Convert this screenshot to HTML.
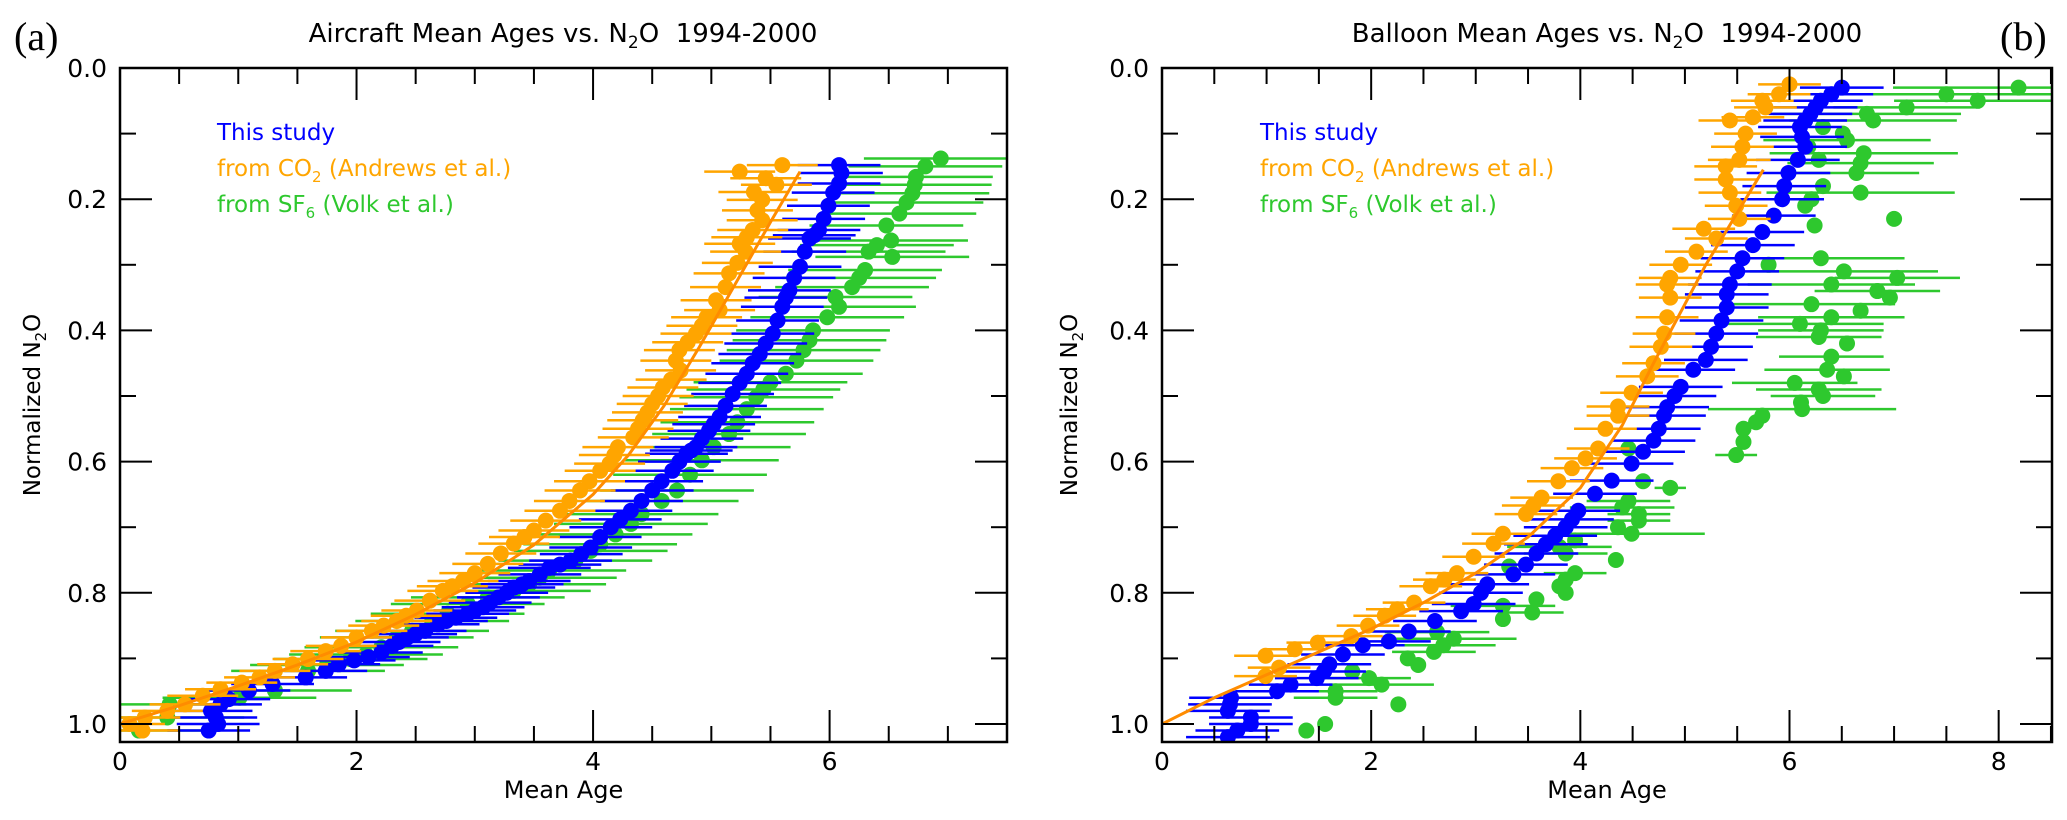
<!DOCTYPE html>
<html><head><meta charset="utf-8"><style>
html,body{margin:0;padding:0;background:#fff;}
svg{display:block;font-family:"DejaVu Sans","Liberation Sans",sans-serif;}
</style></head><body>
<svg id="fig" width="2067" height="820" viewBox="0 0 2067 820" xmlns="http://www.w3.org/2000/svg">
<text x="14" y="50" font-family="Liberation Serif, serif" font-size="40">(a)</text>
<text x="2000" y="50" font-family="Liberation Serif, serif" font-size="40">(b)</text>
<text x="563" y="42" font-size="26" text-anchor="middle">Aircraft Mean Ages vs. N<tspan font-size="17" dy="6">2</tspan><tspan dy="-6">O&#160;&#160;1994-2000</tspan></text>
<text x="1607" y="42" font-size="26" text-anchor="middle">Balloon Mean Ages vs. N<tspan font-size="17" dy="6">2</tspan><tspan dy="-6">O&#160;&#160;1994-2000</tspan></text>
<g id="pa"></g>
<g id="pb"></g>
</svg>
<script>
// ---- Panel (a) data: aircraft ----
const aBlueX=[6.08,6.1,6.08,6.03,5.99,5.95,5.91,5.87,5.83,5.79,5.75,5.7,5.66,5.63,5.6,5.56,5.52,5.46,5.41,5.35,5.3,5.24,5.18,5.12,5.07,5.02,4.98,4.92,4.87,4.83,4.79,4.73,4.67,4.58,4.5,4.41,4.32,4.23,4.15,4.06,3.98,3.9,3.81,3.72,3.63,3.55,3.46,3.4,3.33,3.27,3.2,3.13,3.07,3.0,2.94,2.84,2.76,2.69,2.58,2.5,2.43,2.36,2.3,2.21,2.1,1.98,1.85,1.74,1.57,1.29,1.09,0.92,0.85,0.77,0.81,0.83,0.75];
const aBlueY=[0.148,0.16,0.176,0.19,0.21,0.23,0.247,0.255,0.26,0.28,0.303,0.32,0.339,0.35,0.364,0.385,0.405,0.42,0.436,0.45,0.466,0.48,0.497,0.515,0.532,0.543,0.553,0.565,0.578,0.583,0.588,0.6,0.614,0.63,0.644,0.66,0.675,0.688,0.7,0.715,0.731,0.741,0.751,0.757,0.762,0.772,0.782,0.787,0.792,0.8,0.807,0.815,0.822,0.827,0.832,0.838,0.843,0.848,0.858,0.863,0.868,0.875,0.881,0.891,0.898,0.903,0.909,0.919,0.929,0.939,0.949,0.962,0.97,0.98,0.99,1.0,1.01];
const aOrangeX=[5.6,5.24,5.46,5.55,5.36,5.43,5.39,5.43,5.35,5.3,5.24,5.29,5.22,5.15,5.12,5.04,5.07,4.96,4.92,4.87,4.8,4.73,4.7,4.74,4.66,4.59,4.55,4.5,4.46,4.42,4.38,4.34,4.21,4.18,4.14,4.06,3.97,3.89,3.8,3.72,3.6,3.5,3.42,3.33,3.22,3.11,3.0,2.9,2.81,2.73,2.62,2.51,2.42,2.34,2.23,2.13,2.0,1.87,1.74,1.59,1.46,1.31,1.18,1.03,0.85,0.7,0.55,0.4,0.21,0.08,0.19];
const aOrangeY=[0.148,0.158,0.168,0.178,0.189,0.201,0.217,0.232,0.247,0.258,0.268,0.28,0.297,0.313,0.334,0.354,0.369,0.38,0.393,0.405,0.418,0.43,0.446,0.461,0.475,0.487,0.5,0.512,0.525,0.537,0.55,0.563,0.578,0.59,0.603,0.614,0.63,0.644,0.66,0.675,0.69,0.705,0.715,0.725,0.74,0.756,0.77,0.782,0.79,0.797,0.812,0.827,0.835,0.843,0.85,0.858,0.868,0.881,0.889,0.901,0.909,0.919,0.929,0.937,0.947,0.957,0.97,0.98,0.99,1.0,1.01];
const aGreenX=[6.94,6.81,6.73,6.72,6.7,6.65,6.59,6.48,6.52,6.53,6.4,6.33,6.3,6.25,6.19,6.05,6.08,5.98,5.86,5.83,5.78,5.72,5.63,5.5,5.44,5.38,5.3,5.22,5.15,5.02,4.92,4.82,4.71,4.58,4.41,4.32,4.19,4.06,3.98,3.85,3.63,3.55,3.46,3.33,3.11,2.94,2.77,2.64,2.47,2.34,2.21,2.08,1.95,1.75,1.59,1.31,1.01,0.42,0.4,0.16];
const aGreenY=[0.138,0.15,0.166,0.178,0.191,0.205,0.222,0.24,0.263,0.288,0.27,0.28,0.308,0.32,0.334,0.349,0.364,0.38,0.4,0.415,0.43,0.446,0.466,0.479,0.49,0.502,0.52,0.54,0.558,0.578,0.598,0.62,0.644,0.66,0.68,0.695,0.711,0.726,0.736,0.751,0.766,0.777,0.787,0.797,0.807,0.817,0.832,0.843,0.858,0.868,0.883,0.894,0.901,0.91,0.919,0.949,0.96,0.97,0.99,1.01];
const aFitX=[0,0.5,1,1.5,2,2.5,3,3.5,4,4.3,4.6,4.9,5.2,5.5,5.75];
const aFitY=[1.0,0.972,0.942,0.91,0.875,0.833,0.785,0.727,0.65,0.59,0.515,0.425,0.33,0.235,0.158];
const aErr={blue:0.35,orange:0.3,green:0.65};

// ---- Panel (b) data: balloon ----
const bBlueX=[6.5,6.4,6.3,6.25,6.2,6.15,6.1,6.12,6.15,6.08,5.99,5.95,5.93,5.85,5.74,5.65,5.55,5.5,5.43,5.4,5.4,5.35,5.3,5.25,5.2,5.08,4.96,4.9,4.83,4.8,4.75,4.7,4.6,4.49,4.3,4.14,3.98,3.92,3.86,3.76,3.67,3.58,3.48,3.36,3.11,3.05,2.98,2.86,2.61,2.36,2.17,1.92,1.73,1.6,1.55,1.48,1.23,1.1,0.66,0.65,0.63,0.85,0.85,0.72,0.63];
const bBlueY=[0.03,0.04,0.05,0.06,0.07,0.08,0.09,0.105,0.12,0.14,0.16,0.18,0.20,0.225,0.25,0.27,0.29,0.31,0.33,0.345,0.365,0.385,0.405,0.425,0.445,0.46,0.486,0.5,0.517,0.53,0.55,0.568,0.585,0.603,0.629,0.649,0.675,0.688,0.70,0.713,0.726,0.74,0.757,0.772,0.787,0.8,0.817,0.828,0.843,0.859,0.874,0.88,0.894,0.909,0.92,0.93,0.94,0.95,0.96,0.97,0.98,0.99,1.0,1.01,1.02];
const bOrangeX=[6.0,5.9,5.74,5.77,5.43,5.65,5.58,5.55,5.52,5.39,5.39,5.43,5.49,5.52,5.18,5.3,5.11,4.96,4.86,4.83,4.86,4.83,4.8,4.77,4.7,4.64,4.49,4.36,4.36,4.24,4.17,4.05,3.92,3.79,3.63,3.55,3.48,3.26,3.17,2.98,2.82,2.7,2.57,2.41,2.25,2.13,1.97,1.81,1.49,1.27,0.99,1.12,0.99];
const bOrangeY=[0.025,0.04,0.05,0.06,0.08,0.075,0.1,0.12,0.14,0.15,0.17,0.19,0.21,0.23,0.245,0.26,0.28,0.30,0.32,0.33,0.35,0.38,0.405,0.425,0.45,0.47,0.495,0.516,0.53,0.55,0.58,0.595,0.61,0.63,0.655,0.667,0.68,0.71,0.725,0.745,0.77,0.78,0.79,0.815,0.825,0.835,0.85,0.866,0.876,0.886,0.896,0.914,0.927];
const bGreenX=[8.19,7.5,7.8,7.12,6.74,6.8,6.32,6.51,6.55,6.18,6.71,6.28,6.68,6.64,6.32,6.68,6.21,6.15,7.0,6.24,6.3,5.8,6.52,7.03,6.4,6.84,6.96,6.21,6.68,6.4,6.1,6.3,6.28,6.55,6.4,6.36,6.52,6.05,6.28,6.32,6.11,6.12,5.74,5.68,5.56,5.56,5.49,4.46,4.6,4.86,4.46,4.4,4.56,4.56,4.36,4.49,3.95,3.8,3.86,4.34,3.32,3.95,3.86,3.8,3.86,3.58,3.26,3.54,3.26,2.63,2.79,2.69,2.6,2.35,2.45,1.82,1.98,2.1,1.66,1.66,2.26,1.56,1.38];
const bGreenY=[0.03,0.04,0.05,0.06,0.07,0.08,0.09,0.10,0.11,0.12,0.13,0.14,0.145,0.16,0.18,0.19,0.20,0.21,0.23,0.24,0.29,0.30,0.31,0.32,0.33,0.34,0.35,0.36,0.37,0.38,0.39,0.40,0.41,0.42,0.44,0.46,0.47,0.48,0.49,0.50,0.51,0.52,0.53,0.54,0.55,0.57,0.59,0.58,0.63,0.64,0.66,0.67,0.68,0.69,0.70,0.71,0.72,0.73,0.74,0.75,0.76,0.77,0.78,0.79,0.80,0.81,0.82,0.83,0.84,0.86,0.87,0.88,0.89,0.90,0.91,0.92,0.93,0.94,0.95,0.96,0.97,1.00,1.01];
const bGreenErr=[1.2,1.2,0.8,0.7,0.9,0.8,0,0,0.8,0,0.9,0,0.7,0.6,0,0.9,0,0,0,0,0.8,0,0.9,0.6,0.8,0.6,0,0.8,0,0.7,0.8,0.6,0.6,0,0.5,0.6,0,0.6,0.6,0.5,0,0.9,0,0,0,0,0.2,0,0,0.15,0.4,0.5,0.3,0.3,0,0.7,0,0.5,0.4,0,0,0.3,0,0,0,0,0.5,0.3,0,0.5,0.6,0.5,0.4,0,0,0,0.4,0.5,0.4,0.4,0,0,0];
const bFitX=[0,0.5,1,1.5,2,2.5,3,3.5,4,4.4,4.7,5.2,5.75];
const bFitY=[1.0,0.96,0.925,0.89,0.855,0.815,0.77,0.715,0.64,0.545,0.45,0.3,0.155];
const bErr={blue:0.4,orange:0.3};

const xTicksA=[0,2,4,6];
const xTicksB=[0,2,4,6,8];
const yTicks=[0.0,0.2,0.4,0.6,0.8,1.0];

const NS="http://www.w3.org/2000/svg";
function mk(tag,attrs,parent){const e=document.createElementNS(NS,tag);for(const k in attrs)e.setAttribute(k,attrs[k]);parent.appendChild(e);return e;}

function panel(g,L,R,xmax,xTicks,series,fitX,fitY,legendX,ylabX,id){
  const T=68,B=742;
  const xs=v=>L+v*(R-L)/xmax;
  const ys=v=>T+v*656;
  const clipId='clip'+id;
  const cp=mk('clipPath',{id:clipId},g);
  mk('rect',{x:L,y:T,width:R-L,height:B-T},cp);
  const data=mk('g',{'clip-path':'url(#'+clipId+')'},g);
  
  
  series.forEach(s=>{
    const sg=mk('g',{},data);
    
    
    s.x.forEach((xv,i)=>{
      const e=Array.isArray(s.err)?s.err[i]:s.err;
      if(e>0){
        const ln=mk('line',{x1:xs(xv-e),x2:xs(xv+e),y1:ys(s.y[i]),y2:ys(s.y[i]),stroke:s.color,'stroke-width':2.5},sg);
        
        
      }
    });
    s.x.forEach((xv,i)=>{
      const c=mk('circle',{cx:xs(xv),cy:ys(s.y[i]),r:8,fill:s.color},sg);
      
      
    });
  });
  const fit=mk('polyline',{points:fitX.map((v,i)=>xs(v)+','+ys(fitY[i])).join(' '),fill:'none',stroke:'#ff8c00','stroke-width':3},data);
  
  
  const fr=mk('rect',{x:L,y:T,width:R-L,height:B-T,fill:'none',stroke:'#000','stroke-width':2.5},g);
  
  
  for(let v=0;v<=xmax+1e-6;v+=0.5){
    const major=Math.abs(v/2-Math.round(v/2))<1e-6;
    const len=major?32:16;
    mk('line',{x1:xs(v),x2:xs(v),y1:B,y2:B-len,stroke:'#000','stroke-width':2},g);
    mk('line',{x1:xs(v),x2:xs(v),y1:T,y2:T+len,stroke:'#000','stroke-width':2},g);
  }
  xTicks.forEach(v=>{
    const t=mk('text',{x:xs(v),y:770,'font-size':25,'text-anchor':'middle'},g);
    
    
    t.textContent=String(v);
  });
  for(let k=0;k<=10;k++){
    const v=k/10,major=k%2===0,len=major?32:16;
    mk('line',{x1:L,x2:L+len,y1:ys(v),y2:ys(v),stroke:'#000','stroke-width':2},g);
    mk('line',{x1:R,x2:R-len,y1:ys(v),y2:ys(v),stroke:'#000','stroke-width':2},g);
  }
  yTicks.forEach(v=>{
    const t=mk('text',{x:L-13,y:ys(v)+9,'font-size':25,'text-anchor':'end'},g);
    
    
    t.textContent=v.toFixed(1);
  });
  const xl=mk('text',{x:(L+R)/2,y:798,'font-size':24,'text-anchor':'middle'},g);
  
  
  xl.textContent='Mean Age';
  const yl=mk('text',{x:0,y:0,'font-size':23,'text-anchor':'middle',transform:'translate('+ylabX+',405) rotate(-90)'},g);
  
  
  yl.innerHTML='Normalized N<tspan font-size="15" dy="6">2</tspan><tspan dy="-6">O</tspan>';
  const leg=[['This study','#0000ff',140,''],['from CO','#ffa500',176,'2|(Andrews et al.)'],['from SF','#2ec82e',212,'6|(Volk et al.)']];
  leg.forEach(l=>{
    const t=mk('text',{x:legendX,y:l[2],'font-size':23,fill:l[1]},g);
    
    
    if(l[3]){const p=l[3].split('|');t.innerHTML=l[0]+'<tspan font-size="15" dy="6">'+p[0]+'</tspan><tspan dy="-6"> '+p[1]+'</tspan>';}
    else t.textContent=l[0];
  });
}

panel(document.getElementById('pa'),120,1007,7.5,xTicksA,[
  {name:'series-sf6-volk',x:aGreenX,y:aGreenY,err:aErr.green,color:'#2ec82e'},
  {name:'series-this-study',x:aBlueX,y:aBlueY,err:aErr.blue,color:'#0000ff'},
  {name:'series-co2-andrews',x:aOrangeX,y:aOrangeY,err:aErr.orange,color:'#ffa500'}
],aFitX,aFitY,217,40,'a');

panel(document.getElementById('pb'),1162,2052,8.51,xTicksB,[
  {name:'series-sf6-volk',x:bGreenX,y:bGreenY,err:bGreenErr,color:'#2ec82e'},
  {name:'series-this-study',x:bBlueX,y:bBlueY,err:bErr.blue,color:'#0000ff'},
  {name:'series-co2-andrews',x:bOrangeX,y:bOrangeY,err:bErr.orange,color:'#ffa500'}
],bFitX,bFitY,1260,1077,'b');
</script>
</body></html>
